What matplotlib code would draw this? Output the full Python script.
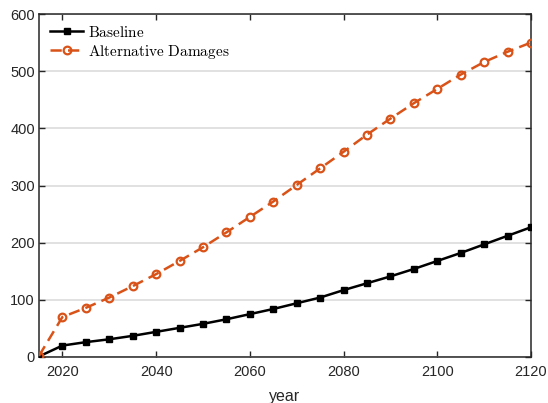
import matplotlib
matplotlib.use("Agg")
import matplotlib.pyplot as plt

# Damages over time
years = list(range(2015, 2121, 5))
baseline = [1, 20, 26, 31, 37, 44, 51, 58, 66, 75, 84, 94, 104, 117, 129,
            141, 154, 168, 182, 197, 212, 227]
alternative = [2, 70, 86, 104, 124, 145, 168, 192, 218, 245, 272, 301, 330,
               359, 389, 417, 444, 469, 494, 516, 534, 550]

x_ticks = [2020, 2040, 2060, 2080, 2100, 2120]
y_ticks = [0, 100, 200, 300, 400, 500, 600]

AXIS_COLOR = "#262626"
ORANGE = "#D95319"

plt.rcParams["mathtext.fontset"] = "cm"
plt.rcParams["font.family"] = ["Liberation Sans", "DejaVu Sans"]

fig = plt.figure(figsize=(5.48, 4.03), dpi=100)
ax = fig.add_axes([39 / 548, 1 - 357 / 403, 492 / 548, 343 / 403])

ax.plot(years, baseline, color="black", lw=1.8, marker="s", ms=5,
        mfc="black", mec="black", label=r"$\mathrm{Baseline}$", zorder=3)
ax.plot(years, alternative, color=ORANGE, lw=1.8, ls=(0, (4.5, 2.5)),
        marker="o", ms=5.5, mfc="none", mec=ORANGE, mew=1.6,
        label=r"$\mathrm{Alternative\ Damages}$", zorder=3)

ax.set_xlim(2015, 2120)
ax.set_ylim(0, 600)
ax.set_xticks(x_ticks)
ax.set_yticks(y_ticks)
ax.yaxis.grid(True, color="#DCDCDC", lw=1.2)
ax.set_axisbelow(True)

for side in ax.spines.values():
    side.set_color(AXIS_COLOR)
    side.set_linewidth(1.1)
ax.tick_params(direction="in", top=True, right=True, length=4, width=1,
               color=AXIS_COLOR, labelcolor=AXIS_COLOR, labelsize=10.5)
ax.tick_params(axis="x", pad=6)
ax.tick_params(axis="y", pad=3)

ax.set_xlabel("year", fontsize=11.5, color=AXIS_COLOR, labelpad=7)

leg = ax.legend(loc="upper left", frameon=False, fontsize=11,
                handlelength=2.2, handletextpad=0.3, borderaxespad=0.3,
                labelspacing=0.2)

fig.savefig("out.png", dpi=100)
